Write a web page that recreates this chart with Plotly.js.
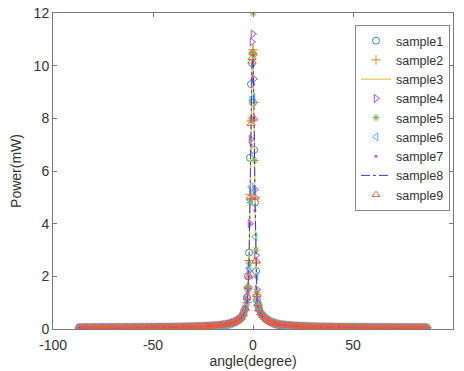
<!DOCTYPE html>
<html>
<head>
<meta charset="utf-8">
<script src="https://cdn.plot.ly/plotly-3.0.1.min.js"></script>
<style>html,body{margin:0;padding:0;background:#fff;}#chart{width:464px;height:371px;}</style>
</head>
<body>
<div id="chart"></div>
<script>
// Angle grid (degrees)
const tailAngles = [6,7,8,9,10,11,12,13,14,15,16,17,18,19,20,21,22,23,24,25,26,27,28,29,30,
  31,32,33,34,35,36,37,38,39,40,41,42,43,44,45,46,47,48,49,50,51,52,53,54,55,56,57,58,59,60,
  61,62,63,64,65,66,67,68,69,70,71,72,73,74,75,76,77,78,79,80,81,82,83,84,85,86,87];
const centerAngles = [-5,-4,-3,-2.5,-2,-1.5,-1,-0.5,0,0.5,1,1.5,2,2.5,3,4,5];

// Tail power values (mW) for |angle| = 6..87
const tailPower = [0.42,0.36,0.31,0.27,0.24,0.21,0.19,0.17,0.16,0.15,0.14,0.13,0.125,0.12,0.115,0.11,0.105,0.1,0.097,0.094,0.091,0.088,0.085,0.083,0.081,
  0.079,0.077,0.075,0.073,0.072,0.07,0.069,0.068,0.067,0.066,
  0.065,0.064,0.063,0.062,0.061,0.06,0.06,0.059,0.058,0.058,
  0.057,0.057,0.056,0.056,0.055,0.055,0.054,0.054,0.053,0.053,
  0.052,0.052,0.052,0.051,0.051,0.05,0.05,0.05,0.05,0.049,
  0.049,0.049,0.048,0.048,0.048,0.048,0.047,0.047,0.047,0.047,
  0.046,0.046,0.046,0.046,0.045,0.045,0.045];

// Center power values (mW) per sample at centerAngles
const sample1 = [0.55,0.75,1.2,2.0,2.9,6.5,9.3,10.1,8.6,6.8,4.8,2.2,1.1,0.9,0.75,0.6,0.5];
const sample2 = [0.5,0.7,1.0,1.6,2.6,5.1,7.9,10.1,10.6,8.6,5.0,2.5,1.3,0.9,0.7,0.55,0.45];
const sample3 = [0.5,0.7,1.0,1.5,2.4,4.5,7.5,10.0,10.8,8.0,4.2,2.1,1.2,0.9,0.7,0.55,0.45];
const sample4 = [0.55,0.75,1.1,1.5,2.2,4.0,7.2,10.9,11.2,9.5,5.3,2.8,1.5,1.0,0.8,0.6,0.5];
const sample5 = [0.5,0.7,1.0,1.6,2.5,4.8,8.0,10.5,12.0,10.4,6.4,3.0,1.4,1.0,0.75,0.6,0.5];
const sample6 = [0.5,0.7,1.0,1.5,2.3,4.9,5.4,8.7,8.8,5.2,3.5,2.0,1.1,0.85,0.7,0.55,0.45];
const sample7 = [0.5,0.7,1.0,1.4,2.0,4.0,7.0,9.5,10.0,8.0,4.5,2.0,1.1,0.85,0.7,0.55,0.45];
const sample8 = [0.5,0.7,1.0,1.5,2.5,5.0,8.0,10.0,10.4,8.5,5.0,2.4,1.2,0.9,0.7,0.55,0.45];
const sample9 = [0.6,0.8,1.2,1.6,2.0,5.0,7.8,10.3,10.5,8.0,5.0,2.6,1.3,0.95,0.75,0.6,0.5];

const names = ['sample1','sample2','sample3','sample4','sample5','sample6','sample7','sample8','sample9'];
const centers = [sample1,sample2,sample3,sample4,sample5,sample6,sample7,sample8,sample9];

// Tick labels
const xTickVals = [-100,-50,0,50,100];
const xTickText = ['-100','-50','0','50','100'];
const yTickVals = [0,2,4,6,8,10,12];

const leftAngles = tailAngles.map(a => -a).reverse();
const leftPower = tailPower.slice().reverse();
const xAll = leftAngles.concat(centerAngles, tailAngles);

const styles = [
  {mode:'markers', marker:{symbol:'circle-open', size:7, color:'#3d8f86', line:{width:1}}},
  {mode:'markers', marker:{symbol:'cross-thin-open', size:7, color:'#f0852d', line:{width:1}}},
  {mode:'lines', line:{color:'#e8b23a', width:1}},
  {mode:'markers', marker:{symbol:'triangle-right-open', size:7, color:'#a64fd0', line:{width:1}}},
  {mode:'markers', marker:{symbol:'asterisk-open', size:6, color:'#76b43a', line:{width:1}}},
  {mode:'markers', marker:{symbol:'triangle-left-open', size:7, color:'#4fb8e6', line:{width:1}}},
  {mode:'markers', marker:{symbol:'circle', size:3, color:'#e24aa8'}},
  {mode:'lines', line:{color:'#3a3ad6', width:1, dash:'dashdot'}},
  {mode:'markers', marker:{symbol:'triangle-up-open', size:7, color:'#e8603a', line:{width:1}}}
];

const traces = names.map((n, i) => Object.assign({
  type:'scatter', name:n, x:xAll, y:leftPower.concat(centers[i], tailPower)
}, styles[i]));

const axisCommon = {
  showline:true, mirror:'ticks', linecolor:'#7a7a7a', linewidth:1,
  ticks:'inside', ticklen:4, tickcolor:'#7a7a7a', showgrid:false, zeroline:false,
  tickfont:{family:'Liberation Sans, Arial, sans-serif', size:14, color:'#333'}
};

const layout = {
  width:464, height:371,
  margin:{l:53, r:11, t:13, b:42},
  paper_bgcolor:'#fff', plot_bgcolor:'#fff',
  showlegend:true,
  font:{family:'Liberation Sans, Arial, sans-serif', color:'#333'},
  xaxis:Object.assign({}, axisCommon, {
    range:[-100,100], tickmode:'array', tickvals:xTickVals, ticktext:xTickText,
    ticklabelstandoff:3,
    title:{text:'angle(degree)', font:{size:14, color:'#333'}, standoff:0}
  }),
  yaxis:Object.assign({}, axisCommon, {
    range:[0,12], tickmode:'array', tickvals:yTickVals,
    title:{text:'Power(mW)', font:{size:14, color:'#333'}, standoff:8}
  }),
  legend:{
    x:0.755, y:0.962, xanchor:'left', yanchor:'top',
    bgcolor:'#fff', bordercolor:'#888', borderwidth:1,
    font:{family:'Liberation Sans, Arial, sans-serif', size:12.5, color:'#333'},
    tracegroupgap:0, itemwidth:30
  }
};

Plotly.newPlot('chart', traces, layout, {displayModeBar:false, staticPlot:true});
</script>
</body>
</html>
